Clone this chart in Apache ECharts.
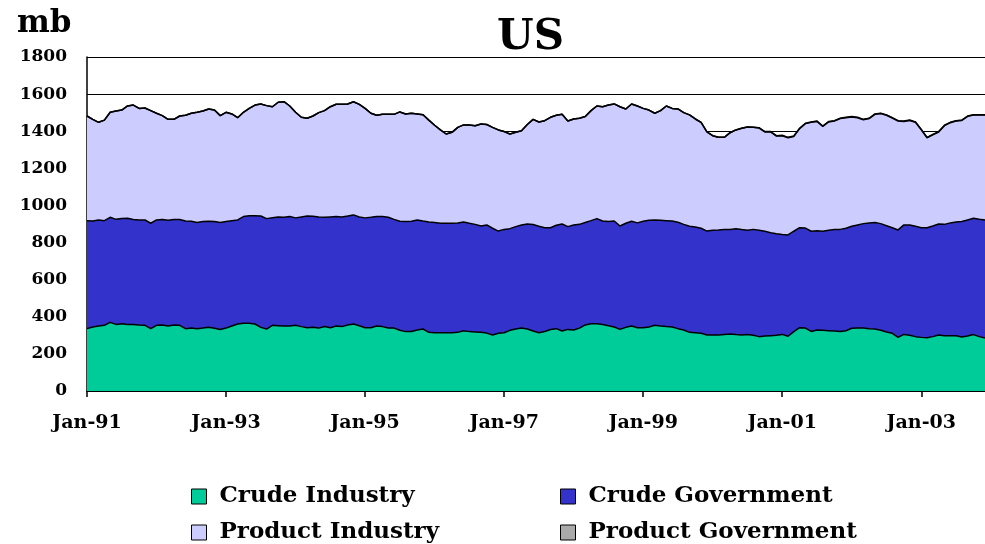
<!DOCTYPE html>
<html>
<head>
<meta charset="utf-8">
<title>US</title>
<script src="https://cdn.jsdelivr.net/npm/echarts@6/dist/echarts.min.js"></script>
<style>
  html, body { margin: 0; padding: 0; background: #fff; }
  #chart { width: 985px; height: 544px; }
</style>
</head>
<body>
<div id="chart"></div>
<script>
// monthly stocks, mb, Jan-91 .. Dec-03
var crudeIndustry = [
  336,345,350,354,370,359,363,359,359,356,354,336,354,356,350,356,354,336,339,336,339,343,
  338,331,339,350,361,365,365,361,343,334,354,352,350,350,354,347,341,343,339,348,341,350,
  347,356,361,352,341,341,350,347,339,339,327,320,321,329,334,316,314,314,314,314,316,325,320,
  318,316,312,302,311,314,327,334,339,334,323,314,321,331,336,323,332,329,339,356,363,363,
  358,352,345,332,343,350,341,341,345,354,350,347,345,336,329,316,314,311,302,302,302,305,
  307,304,302,304,300,293,296,298,300,305,295,320,341,339,321,329,327,325,323,321,325,338,
  339,339,336,334,327,318,311,289,305,300,293,289,287,293,302,298,298,298,291,296,304,293,286
];
var crudeGovernment = [
  582,571,572,564,566,566,566,572,565,566,568,568,568,568,570,568,570,580,576,572,574,572,
  575,577,574,568,561,575,580,584,600,595,580,586,586,590,579,591,602,599,599,588,597,590,
  591,587,588,586,592,595,590,593,597,586,588,593,594,593,582,595,594,590,590,590,590,586,584,
  580,573,583,575,551,557,548,552,556,566,574,574,559,549,557,577,554,566,559,552,555,566,
  558,561,571,557,561,565,565,574,575,568,570,571,571,573,569,572,570,566,560,564,566,566,
  564,571,568,562,571,573,565,555,548,539,546,541,539,539,540,535,534,541,547,550,552,550,
  556,563,570,574,575,573,569,579,590,595,595,591,593,596,598,600,608,613,622,626,627,632,636
];
var productIndustry = [
  564,548,526,542,566,584,585,605,617,601,603,607,575,560,544,540,558,570,582,594,596,605,
  601,576,589,575,551,562,578,596,604,609,598,618,623,596,569,537,527,540,562,575,594,605,
  607,604,610,607,590,561,546,551,555,566,589,580,582,571,573,549,524,503,481,490,515,523,530,
  532,550,541,544,545,527,510,508,508,536,567,562,577,595,593,591,569,571,572,571,593,607,
  616,628,631,643,616,632,630,608,594,575,591,618,607,611,602,600,582,571,534,510,499,496,
  521,532,546,557,550,551,535,543,526,532,524,511,534,563,587,589,565,584,585,597,596,589,
  578,560,562,583,593,595,591,587,558,563,560,528,485,492,496,532,540,544,545,558,556,562,565
];
var productGovernment = [
  0,0,0,0,0,0,0,0,0,0,0,0,0,0,0,0,0,0,0,0,0,0,
  0,0,0,0,0,0,0,0,0,0,0,0,0,0,0,0,0,0,0,0,0,0,
  0,0,0,0,0,0,0,0,0,0,0,0,0,0,0,0,0,0,0,0,0,0,0,
  0,0,0,0,0,0,0,0,0,0,0,0,0,0,0,0,0,0,0,0,0,0,
  0,0,0,0,0,0,0,0,0,0,0,0,0,0,0,0,0,0,0,0,0,0,
  0,0,0,0,0,2,2,2,2,2,2,2,2,2,2,2,2,2,2,2,2,2,
  2,2,2,2,2,2,2,2,2,2,2,2,2,2,2,2,2,2,2,2,2,2,2
];
var seriesNames = ["Crude Industry", "Crude Government", "Product Industry", "Product Government"];
var seriesColors = ["#00CC99", "#3333CC", "#CCCCFF", "#AAAAAA"];
var yTicks = [0, 200, 400, 600, 800, 1000, 1200, 1400, 1600, 1800];

var monthNames = ["Jan","Feb","Mar","Apr","May","Jun","Jul","Aug","Sep","Oct","Nov","Dec"];
var categories = [];
for (var y = 1991; y <= 2003; y++) {
  for (var m = 0; m < 12; m++) {
    categories.push(monthNames[m] + "-" + String(y).slice(2));
  }
}

var font = "DejaVu Serif";
var chart = echarts.init(document.getElementById("chart"));

var values = [crudeIndustry, crudeGovernment, productIndustry, productGovernment];
var series = values.map(function(arr, i) {
  return {
    name: seriesNames[i],
    type: "line",
    stack: "total",
    data: arr,
    symbol: "none",
    color: seriesColors[i],
    lineStyle: { color: "#000", width: 1.5 },
    areaStyle: { color: seriesColors[i], opacity: 1 },
    emphasis: { disabled: true }
  };
});

function legendAt(i, left, top) {
  return {
    left: left,
    top: top,
    icon: "rect",
    itemWidth: 15,
    itemHeight: 15,
    selectedMode: false,
    textStyle: { fontFamily: font, fontWeight: "bold", fontSize: 23, color: "#000", padding: [0, 0, 0, 8] },
    data: [{
      name: seriesNames[i],
      itemStyle: { color: seriesColors[i], borderColor: "#000", borderWidth: 1 }
    }]
  };
}

chart.setOption({
  animation: false,
  backgroundColor: "#fff",
  title: {
    text: "US",
    left: 492,
    top: 12,
    textStyle: { fontFamily: font, fontWeight: "bold", fontSize: 42, color: "#000" }
  },
  graphic: [{
    type: "text",
    left: 17,
    top: 8,
    style: { text: "mb", font: "bold 31px 'DejaVu Serif'", fill: "#000" }
  }],
  legend: [
    legendAt(0, 186, 480),
    legendAt(1, 555, 480),
    legendAt(2, 186, 516),
    legendAt(3, 555, 516)
  ],
  grid: { left: 87, top: 57, width: 899, height: 334, containLabel: false },
  xAxis: {
    type: "category",
    data: categories,
    boundaryGap: false,
    axisLine: { lineStyle: { color: "#000", width: 1.5 } },
    axisTick: { interval: 23, length: 6, lineStyle: { color: "#000", width: 1.5 } },
    axisLabel: {
      interval: 23,
      margin: 23,
      fontFamily: font,
      fontWeight: "bold",
      fontSize: 19,
      color: "#000"
    },
    splitLine: { show: false }
  },
  yAxis: {
    type: "value",
    min: yTicks[0],
    max: yTicks[yTicks.length - 1],
    interval: 200,
    axisLine: { show: true, lineStyle: { color: "#000", width: 1.5 } },
    axisTick: { show: false },
    axisLabel: {
      margin: 20,
      fontFamily: font,
      fontWeight: "bold",
      fontSize: 17,
      color: "#000",
      formatter: function(v) { return String(v); }
    },
    splitLine: { show: true, lineStyle: { color: "#000", width: 1 } }
  },
  series: series
});
</script>
</body>
</html>
